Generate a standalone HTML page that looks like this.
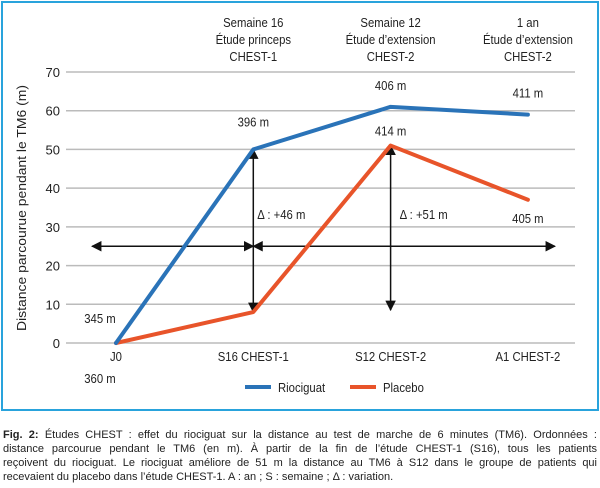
<!DOCTYPE html>
<html><head><meta charset="utf-8"><style>
body{margin:0;width:600px;height:488px;background:#fff;font-family:"Liberation Sans",sans-serif;overflow:hidden;position:relative}
#box{position:absolute;left:1px;top:1px;width:594px;height:406px;border:2px solid #29a3dc}
#cap{position:absolute;left:3px;top:428px;width:594px;font-size:11px;line-height:14px;color:#222}
#cap div{text-align:justify;text-align-last:justify;white-space:nowrap;overflow:hidden}
#cap div.last{text-align-last:left}
svg text{font-family:"Liberation Sans",sans-serif;fill:#222}
</style></head><body>
<div id="box"></div>
<svg id="chart" width="600" height="420" style="position:absolute;left:0;top:0">
<defs><marker id="ah" viewBox="0 0 10 10" refX="9" refY="5" markerWidth="7" markerHeight="7" orient="auto-start-reverse"><path d="M0,0L10,5L0,10z" fill="#111"/></marker></defs>
</svg>
<div id="cap">
<div><b>Fig. 2:</b> Études CHEST : effet du riociguat sur la distance au test de marche de 6 minutes (TM6). Ordonnées :</div>
<div>distance parcourue pendant le TM6 (en m). À partir de la fin de l’étude CHEST-1 (S16), tous les patients</div>
<div>reçoivent du riociguat. Le riociguat améliore de 51 m la distance au TM6 à S12 dans le groupe de patients qui</div>
<div class="last">recevaient du placebo dans l’étude CHEST-1. A : an ; S : semaine ; Δ : variation.</div>
</div>
<script>
const categories=["J0","S16 CHEST-1","S12 CHEST-2","A1 CHEST-2"];
const headers=[["Semaine 16","Étude princeps","CHEST-1"],["Semaine 12","Étude d’extension","CHEST-2"],["1 an","Étude d’extension","CHEST-2"]];
const riociguat=[0,50,61,59];
const placebo=[0,8,51,37];
const riociguatLabels=["","396 m","406 m","411 m"];
const placeboLabels=["","","414 m","405 m"];
const yTicks=[0,10,20,30,40,50,60,70];
const NS="http://www.w3.org/2000/svg";
const svg=document.getElementById('chart');
const x=i=>116+i*137.3;
const y=v=>343-v*(271/70);
function mk(t,a){const e=document.createElementNS(NS,t);for(const k in a)e.setAttribute(k,a[k]);svg.appendChild(e);return e;}
function fit(t){const w=t.getComputedTextLength();const target=w*0.87;t.setAttribute('textLength',target);t.setAttribute('lengthAdjust','spacingAndGlyphs');}
yTicks.forEach(v=>{
 const g=mk('line',{x1:66,x2:575,y1:y(v),y2:y(v),stroke:'#bbb','stroke-width':1.5});
 
 
 const t=mk('text',{x:60,y:y(v)+5,'font-size':13,'text-anchor':'end'});t.textContent=v;
 
 
});
categories.forEach((c,i)=>{
 const t=mk('text',{x:x(i),y:361,'font-size':13,'text-anchor':'middle'});t.textContent=c;fit(t);
 
 
});
headers.forEach((h,i)=>h.forEach((s,j)=>{
 const t=mk('text',{x:x(i+1),y:27+j*17,'font-size':13,'text-anchor':'middle'});t.textContent=s;fit(t);
 
 
}));
const yt=mk('text',{x:0,y:0,'font-size':13,'text-anchor':'middle',transform:'translate(26,208) rotate(-90)',textLength:246,lengthAdjust:'spacingAndGlyphs'});
yt.textContent='Distance parcourue pendant le TM6 (m)';


function arrow(x1,y1,x2,y2,n){const a=mk('line',{x1,y1,x2,y2,stroke:'#111','stroke-width':1.5,'marker-start':'url(#ah)','marker-end':'url(#ah)'});
 
 }
arrow(92,y(25),x(1),y(25),'horizontal-arrow-left');
arrow(x(1),y(25),555,y(25),'horizontal-arrow-right');
arrow(x(1),y(placebo[1]),x(1),y(riociguat[1]),'delta-arrow-s16');
arrow(x(2),y(placebo[1]+0.5),x(2),y(placebo[2]),'delta-arrow-s12');
[[x(1)+4,'Δ : +46 m'],[x(2)+9,'Δ : +51 m']].forEach(d=>{const t=mk('text',{x:d[0],y:219,'font-size':13});t.textContent=d[1];fit(t);
 
 });
function series(vals,col,n){const p=mk('polyline',{points:vals.map((v,i)=>x(i)+','+y(v)).join(' '),fill:'none',stroke:col,'stroke-width':4,'stroke-linejoin':'round','stroke-linecap':'round'});
 
 }
series(placebo,'#e8542a','placebo-line');
series(riociguat,'#2a73b8','riociguat-line');
riociguatLabels.forEach((l,i)=>{if(!l)return;const t=mk('text',{x:x(i),y:y(riociguat[i])-(i==1?23:17),'font-size':13,'text-anchor':'middle'});t.textContent=l;fit(t);
 
 });
placeboLabels.forEach((l,i)=>{if(!l)return;const t=mk('text',{x:x(i),y:i==2?y(placebo[i])-10:y(placebo[i])+23,'font-size':13,'text-anchor':'middle'});t.textContent=l;fit(t);
 
 });
[[100,323,'345 m'],[100,383,'360 m']].forEach(d=>{const t=mk('text',{x:d[0],y:d[1],'font-size':13,'text-anchor':'middle'});t.textContent=d[2];fit(t);
 
 });
[[245,'#2a73b8','Riociguat'],[350,'#e8542a','Placebo']].forEach(d=>{
 const l=mk('line',{x1:d[0],x2:d[0]+26,y1:387,y2:387,stroke:d[1],'stroke-width':4});
 
 
 const t=mk('text',{x:d[0]+33,y:392,'font-size':13});t.textContent=d[2];fit(t);
 
 
});
</script>
</body></html>
